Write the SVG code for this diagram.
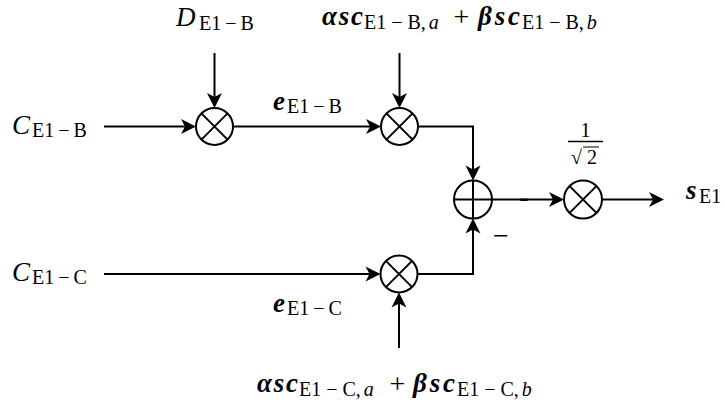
<svg xmlns="http://www.w3.org/2000/svg" width="725" height="405" viewBox="0 0 725 405">
<style>
.bg{fill:#fff}
.op{fill:#fff;stroke:#000;stroke-width:2}
.x{stroke:#000;stroke-width:2;fill:none}
.ln{stroke:#000;stroke-width:2;fill:none;marker-end:url(#ah)}
.m{font-family:"Liberation Serif","DejaVu Serif",serif;font-style:italic;font-size:27px;fill:#000}
.mb{font-family:"Liberation Serif","DejaVu Serif",serif;font-style:italic;font-weight:bold;font-size:27px;fill:#000}
.s{font-family:"Liberation Serif","DejaVu Serif",serif;font-size:20px;fill:#000}
.si{font-style:italic}
.r{font-family:"Liberation Serif","DejaVu Serif",serif;font-size:28px;fill:#000}
.f{font-family:"Liberation Serif","DejaVu Serif",serif;font-size:20px;fill:#000}
</style>
<defs>
<marker id="ah" markerUnits="userSpaceOnUse" orient="auto" refX="11" refY="0" markerWidth="20" markerHeight="20" overflow="visible">
<path d="M0,-7.5 L15,0 L0,7.5 L4,0 Z" fill="#000"/>
</marker>
</defs>
<rect class="bg" x="0" y="0" width="725" height="405"/>

<g id="connectors">
<path class="ln" d="M104,126.5 H192"/>
<path class="ln" d="M214.5,53 V104"/>
<path class="ln" d="M233,126.5 H377"/>
<path class="ln" d="M399.5,53 V104"/>
<path class="ln" d="M418,126.5 H473 V176.5"/>
<path class="ln" d="M417.5,274 H473 V222.5"/>
<path class="ln" d="M104,274 H376.5"/>
<path class="ln" d="M399,348 V296.5"/>
<path class="ln" d="M492,199.5 H560"/>
<path class="ln" d="M602,199.5 H660"/>
</g>

<g id="mult1">
<circle class="op" cx="214.5" cy="126.5" r="18.5"/>
<path class="x" d="M201.4,113.4 L227.6,139.6 M227.6,113.4 L201.4,139.6"/>
</g>
<g id="mult2">
<circle class="op" cx="399.5" cy="126.5" r="18.5"/>
<path class="x" d="M386.4,113.4 L412.6,139.6 M412.6,113.4 L386.4,139.6"/>
</g>
<g id="mult4">
<circle class="op" cx="399" cy="274" r="18.5"/>
<path class="x" d="M385.9,260.9 L412.1,287.1 M412.1,260.9 L385.9,287.1"/>
</g>
<g id="sum">
<circle class="op" cx="473" cy="199.5" r="19"/>
<path class="x" d="M454,199.5 H492 M473,180.5 V218.5"/>
</g>
<g id="mult3">
<circle class="op" cx="583" cy="199.5" r="19"/>
<path class="x" d="M569.6,186.1 L596.4,212.9 M596.4,186.1 L569.6,212.9"/>
</g>

<g id="label-C-E1-B">
<text class="m" x="12" y="134">C</text>
<text class="s" x="32" y="137">E1<tspan dx="4">−</tspan><tspan dx="4">B</tspan></text>
</g>
<g id="label-D-E1-B">
<text class="m" x="176" y="26">D</text>
<text class="s" x="199" y="30">E1<tspan dx="4">−</tspan><tspan dx="4">B</tspan></text>
</g>
<g id="label-top-formula">
<text class="mb" x="322" y="25" textLength="41">αsc</text>
<text class="s" x="364" y="29">E1<tspan dx="5">−</tspan><tspan dx="5">B,</tspan><tspan class="si" dx="3">a</tspan></text>
<text class="r" x="461.5" y="26" text-anchor="middle">+</text>
<text class="mb" x="478" y="25" textLength="42">βsc</text>
<text class="s" x="522" y="29">E1<tspan dx="5">−</tspan><tspan dx="5">B,</tspan><tspan class="si" dx="3">b</tspan></text>
</g>
<g id="label-e-E1-B">
<text class="mb" x="273" y="110">e</text>
<text class="s" x="287" y="113">E1<tspan dx="4">−</tspan><tspan dx="4">B</tspan></text>
</g>
<g id="label-C-E1-C">
<text class="m" x="12" y="281">C</text>
<text class="s" x="32" y="284">E1<tspan dx="4">−</tspan><tspan dx="4">C</tspan></text>
</g>
<g id="label-e-E1-C">
<text class="mb" x="273" y="312">e</text>
<text class="s" x="287" y="315">E1<tspan dx="4">−</tspan><tspan dx="4">C</tspan></text>
</g>
<g id="label-bottom-formula">
<text class="mb" x="257" y="392" textLength="41">αsc</text>
<text class="s" x="299" y="396">E1<tspan dx="5">−</tspan><tspan dx="5">C,</tspan><tspan class="si" dx="3">a</tspan></text>
<text class="r" x="397.5" y="393" text-anchor="middle">+</text>
<text class="mb" x="413" y="392" textLength="42">βsc</text>
<text class="s" x="457" y="396">E1<tspan dx="5">−</tspan><tspan dx="5">C,</tspan><tspan class="si" dx="3">b</tspan></text>
</g>
<g id="label-gain">
<text class="f" x="585.5" y="137" text-anchor="middle">1</text>
<line x1="568" y1="141.5" x2="603" y2="141.5" stroke="#000" stroke-width="1.5"/>
<text class="f" x="571" y="164">√</text>
<line x1="583" y1="147" x2="599" y2="147" stroke="#000" stroke-width="1"/>
<text class="f" x="587" y="164">2</text>
</g>
<g id="label-s-E1">
<text class="mb" x="686" y="199">s</text>
<text class="s" x="699" y="203">E1</text>
</g>
<g id="label-minus">
<text class="r" x="501" y="245" text-anchor="middle" font-size="30">−</text>
<text class="r" x="524" y="206" text-anchor="middle" font-weight="bold" font-size="24">-</text>
</g>
</svg>
